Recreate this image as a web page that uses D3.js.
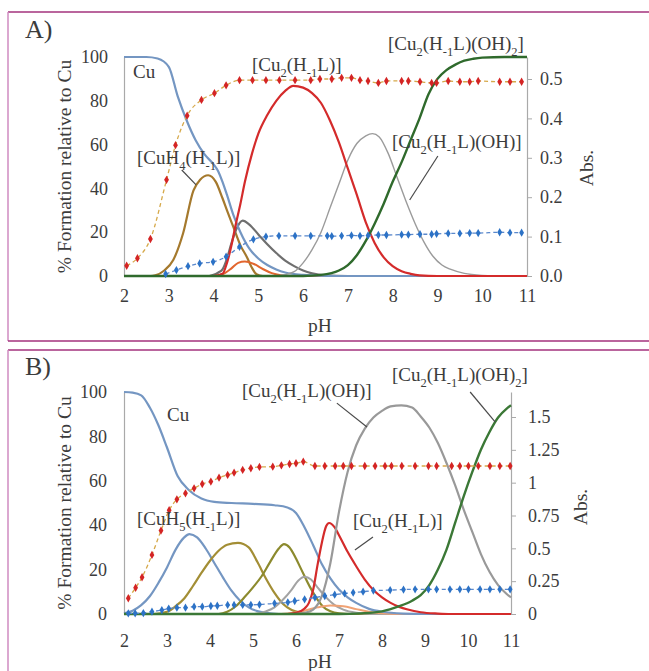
<!DOCTYPE html>
<html>
<head>
<meta charset="utf-8">
<script src="https://cdnjs.cloudflare.com/ajax/libs/d3/7.8.5/d3.min.js"></script>
<style>
  body { margin: 0; background: #fff; }
  svg text, svg tspan { font-family: "Liberation Serif", "DejaVu Serif", serif; fill: #3c3c3c; }
</style>
</head>
<body>
<div id="chart"></div>
<script>
// Shared ticks
var ph_ticks = [2, 3, 4, 5, 6, 7, 8, 9, 10, 11];
var pct_ticks = [0, 20, 40, 60, 80, 100];
var abs_ticks_a = [0, 0.1, 0.2, 0.3, 0.4, 0.5];
var abs_ticks_b = [0, 0.25, 0.5, 0.75, 1, 1.25, 1.5];

var SERIF = '"Liberation Serif", "DejaVu Serif", serif';

// Panel A: species distribution, [pH, % formation]
var a_cu = [[2,100],[2.5,100],[2.75,99.3],[3.0,95.5],[3.2,82],[3.4,71],[3.6,62],[3.8,55.5],[4.0,51],[4.1,48],[4.2,43],[4.3,37],[4.44,28],[4.6,20],[4.8,12.5],[5.0,8],[5.2,5],[5.4,3],[5.6,1.6],[6.0,0.5],[6.5,0.1],[7,0],[11,0]];
var a_cuh4 = [[2,0],[2.6,0],[2.7,0.3],[2.9,2.5],[3.1,7.3],[3.32,19.5],[3.55,39],[3.7,44],[3.88,46],[4.05,43],[4.2,35.5],[4.3,30],[4.44,22.5],[4.6,14],[4.74,8.8],[4.85,4],[4.96,0.8],[5.1,0],[11,0]];
var a_mid = [[2,0],[3.9,0],[4.0,0.5],[4.1,1.5],[4.2,3],[4.3,8],[4.4,15],[4.5,21],[4.65,25.3],[4.8,23.5],[5.0,19],[5.2,14.5],[5.4,10.5],[5.6,7],[5.8,4.5],[6.0,2.5],[6.2,1.2],[6.5,0.3],[7,0],[11,0]];
var a_minor = [[2,0],[4.0,0],[4.2,0.8],[4.4,3.5],[4.55,6],[4.7,6.6],[4.9,5.5],[5.1,3.2],[5.3,1.3],[5.5,0.4],[5.8,0],[11,0]];
var a_cu2 = [[2,0],[4.0,0],[4.2,1],[4.3,6],[4.4,14],[4.48,22],[4.6,33],[4.7,43],[4.86,56],[5.0,65],[5.2,73.5],[5.4,80],[5.6,84.5],[5.78,86.8],[6.0,86],[6.2,83.5],[6.4,79],[6.6,71],[6.8,61],[7.0,49],[7.2,37],[7.4,24.5],[7.6,15],[7.8,8.5],[8.0,4.5],[8.2,2.2],[8.4,1],[8.6,0.3],[9,0],[11,0]];
var a_cu2oh = [[2,0],[5.3,0],[5.5,0.3],[5.8,2],[6.0,6],[6.2,12],[6.4,20],[6.6,31],[6.8,42],[7.0,53],[7.2,60.5],[7.4,64],[7.55,65],[7.7,63.5],[7.9,56],[8.1,45],[8.3,34],[8.5,24],[8.7,15.5],[8.9,9],[9.1,5],[9.3,3],[9.6,1.2],[10,0.3],[10.5,0],[11,0]];
var a_cu2oh2 = [[2,0],[6.0,0],[6.4,0.5],[6.8,2.5],[7.0,5],[7.2,9.5],[7.4,16],[7.6,24],[7.8,33],[8.0,43],[8.2,52],[8.4,62],[8.6,72],[8.8,83],[9.0,90],[9.2,94],[9.4,96.5],[9.6,98.3],[9.8,99.2],[10,99.7],[10.5,100],[11,100]];

// Panel A: absorbance readings, [pH, Abs]
var a_abs_red = [[2.06,0.026],[2.3,0.045],[2.59,0.094],[2.95,0.244],[3.15,0.332],[3.41,0.407],[3.73,0.447],[4.02,0.464],[4.28,0.484],[4.58,0.497],[4.87,0.497],[5.17,0.497],[5.47,0.497],[5.82,0.497],[6.17,0.497],[6.375,0.5],[6.64,0.5],[6.86,0.503],[7.08,0.503],[7.27,0.497],[7.45,0.495],[7.68,0.49],[7.86,0.495],[8.2,0.495],[8.35,0.495],[8.61,0.493],[8.87,0.49],[8.98,0.49],[9.24,0.495],[9.5,0.493],[9.72,0.493],[9.91,0.495],[10.39,0.493],[10.62,0.493],[10.88,0.493]];
var a_abs_blue = [[2.93,0.005],[3.17,0.015],[3.43,0.025],[3.69,0.032],[3.99,0.036],[4.28,0.049],[4.58,0.074],[4.89,0.093],[5.17,0.1],[5.46,0.102],[5.82,0.102],[6.17,0.102],[6.54,0.102],[6.64,0.101],[6.86,0.102],[7.08,0.103],[7.27,0.102],[7.45,0.103],[7.68,0.104],[7.86,0.104],[8.2,0.105],[8.35,0.105],[8.61,0.106],[8.87,0.106],[8.98,0.107],[9.24,0.108],[9.5,0.108],[9.72,0.109],[9.91,0.109],[10.39,0.111],[10.62,0.11],[10.88,0.11]];

// Panel B: species distribution, [pH, % formation]
var b_cu = [[2,100],[2.2,99.7],[2.4,98.5],[2.6,93],[2.8,85],[3.0,75],[3.25,62],[3.5,56],[3.8,52],[4.1,50.5],[4.5,50],[5.0,49.6],[5.5,49],[5.8,48],[6.0,45.5],[6.2,39],[6.4,31],[6.6,22.5],[6.8,16],[7.0,11],[7.2,7.5],[7.4,5],[7.7,2.3],[8.0,1],[8.5,0.2],[9,0],[11,0]];
var b_cuh5 = [[2,0.3],[2.2,1.5],[2.4,4],[2.6,8],[2.8,14],[3.0,21],[3.2,29],[3.4,34.5],[3.52,36],[3.7,34.5],[3.9,29.5],[4.1,23],[4.3,16.5],[4.5,10.5],[4.7,6],[4.9,3],[5.1,1.3],[5.3,0.5],[5.6,0],[11,0]];
var b_sp3 = [[2,0],[2.7,0],[3.0,1],[3.2,3.5],[3.4,7],[3.6,12.5],[3.8,18.5],[4.0,24],[4.2,28.5],[4.4,31.2],[4.65,32],[4.9,30],[5.1,23.5],[5.3,16],[5.5,9.5],[5.7,4.5],[5.9,1.8],[6.1,0.6],[6.4,0],[11,0]];
var b_sp4 = [[2,0],[4.2,0],[4.4,1],[4.6,3.5],[4.8,7.5],[5.0,12],[5.2,17],[5.4,23.5],[5.6,29.5],[5.72,31.5],[5.85,30],[6.0,25],[6.1,21],[6.2,17],[6.33,12],[6.5,6.5],[6.63,3.3],[6.8,1.2],[7.0,0.3],[7.3,0],[11,0]];
var b_sp5 = [[2,0],[5.0,0],[5.3,1.2],[5.5,3],[5.7,6.5],[5.9,11],[6.05,15],[6.2,16.8],[6.35,15.5],[6.5,12],[6.7,7.5],[6.9,4],[7.1,2],[7.4,0.6],[7.8,0],[11,0]];
var b_minor = [[2,0],[5.6,0],[5.9,0.5],[6.2,1.5],[6.5,3],[6.8,3.8],[7.1,3.5],[7.4,2.2],[7.7,1],[8.0,0.3],[8.4,0],[11,0]];
var b_cu2 = [[2,0],[5.8,0],[6.0,0.5],[6.2,2.5],[6.3,5],[6.4,11],[6.5,22],[6.6,32],[6.7,39.5],[6.77,41],[6.9,39],[7.0,35.5],[7.2,28],[7.4,21.5],[7.6,15.5],[7.8,10.8],[8.0,7.5],[8.2,5],[8.4,3.2],[8.6,2],[8.9,0.8],[9.3,0.2],[9.6,0],[11,0]];
var b_cu2oh = [[2,0],[6.0,0],[6.2,0.5],[6.4,2],[6.6,8],[6.8,23],[7.0,46],[7.2,64],[7.4,76],[7.6,83.5],[7.8,88.5],[8.0,91.5],[8.2,93.5],[8.45,94],[8.7,93],[8.9,89],[9.1,84],[9.3,77],[9.5,68],[9.7,58],[9.9,47],[10.1,37],[10.3,27],[10.5,19],[10.7,13],[10.9,9],[11,7.5]];
var b_cu2oh2 = [[2,0],[7.0,0],[7.5,0.3],[8.0,1.2],[8.4,3.5],[8.7,6],[8.9,8.5],[9.1,13],[9.3,20],[9.5,29],[9.7,41],[9.9,53],[10.1,64],[10.3,74],[10.5,82],[10.7,88.5],[10.9,92.5],[11,94]];

// Panel B: absorbance readings, [pH, Abs]
var b_abs_red = [[2.1,0.12],[2.27,0.2],[2.42,0.28],[2.65,0.45],[2.86,0.635],[3.05,0.79],[3.23,0.873],[3.43,0.919],[3.63,0.957],[3.82,0.99],[4.02,1.008],[4.21,1.038],[4.41,1.059],[4.56,1.076],[4.76,1.097],[4.95,1.11],[5.15,1.12],[5.46,1.122],[5.66,1.132],[5.85,1.142],[6.0,1.148],[6.17,1.16],[6.44,1.127],[6.67,1.127],[6.91,1.127],[7.1,1.127],[7.29,1.127],[7.6,1.127],[7.84,1.127],[8.07,1.127],[8.22,1.127],[8.46,1.127],[8.77,1.127],[9.08,1.127],[9.27,1.127],[9.62,1.127],[9.81,1.127],[10.01,1.127],[10.24,1.127],[10.51,1.127],[10.74,1.127],[10.98,1.127]];
var b_abs_blue = [[2.1,0.005],[2.26,0.005],[2.45,0.007],[2.65,0.018],[2.88,0.03],[3.04,0.041],[3.23,0.048],[3.43,0.048],[3.63,0.056],[3.82,0.056],[4.02,0.061],[4.17,0.063],[4.41,0.069],[4.56,0.069],[4.76,0.069],[4.95,0.07],[5.15,0.072],[5.5,0.081],[5.81,0.089],[5.97,0.099],[6.2,0.112],[6.44,0.125],[6.67,0.137],[6.9,0.147],[7.13,0.157],[7.33,0.163],[7.56,0.17],[7.8,0.178],[8.19,0.182],[8.5,0.186],[8.77,0.188],[9.08,0.188],[9.27,0.188],[9.58,0.188],[9.81,0.188],[10.01,0.188],[10.28,0.188],[10.51,0.188],[10.74,0.188],[10.98,0.188]];

var svg = d3.select('#chart')
    .append('svg')
    .attr('width', 649)
    .attr('height', 671);

// Panel frames
function draw_frame(top, bottom) {
    svg.append('line').attr('x1', 8).attr('x2', 700).attr('y1', top).attr('y2', top)
        .attr('stroke', '#a3327c').attr('stroke-width', 1.5);
    svg.append('line').attr('x1', 8).attr('x2', 8).attr('y1', top).attr('y2', bottom)
        .attr('stroke', '#cf8bc0').attr('stroke-width', 1.5);
    if (bottom < 671) {
        svg.append('line').attr('x1', 8).attr('x2', 700).attr('y1', bottom).attr('y2', bottom)
            .attr('stroke', '#a3327c').attr('stroke-width', 1.5);
    }
}
draw_frame(12, 341);
draw_frame(350, 700);

// Text with subscripts: parts = [[text, isSub], ...]
function add_label(g, x, y, parts, size) {
    var t = g.append('text').attr('x', x).attr('y', y)
        .style('font-family', SERIF).style('font-size', size + 'px');
    var shift = 0;
    parts.forEach(function(p) {
        var target = p[1] ? size * 0.3 : 0;
        t.append('tspan')
            .attr('dy', target - shift)
            .style('font-size', p[1] ? (size * 0.66) + 'px' : size + 'px')
            .text(p[0]);
        shift = target;
    });
}

function style_axis(axis_g) {
    axis_g.attr('font-family', null).attr('font-size', null);
    axis_g.selectAll('.domain').attr('stroke', '#a9a9a9').attr('stroke-width', 1.2);
    axis_g.selectAll('.tick line').attr('stroke', '#a9a9a9');
    axis_g.selectAll('text').style('font-family', SERIF).style('font-size', '18px').style('fill', '#3c3c3c');
}

function render_panel(cfg) {
    var g = svg.append('g');

    var x = d3.scaleLinear().domain([2, 11]).range([cfg.left, cfg.right]);
    var y = d3.scaleLinear().domain([0, 100]).range([cfg.bottom, cfg.top]);
    var yAbs = d3.scaleLinear().domain([0, cfg.absMax]).range([cfg.bottom, cfg.top]);

    // Axes
    style_axis(g.append('g').attr('transform', 'translate(' + cfg.left + ',0)')
        .call(d3.axisLeft(y).tickValues(pct_ticks).tickSize(0).tickPadding(cfg.padL)));
    style_axis(g.append('g').attr('transform', 'translate(' + cfg.right + ',0)')
        .call(d3.axisRight(yAbs).tickValues(cfg.absTicks).tickSize(5).tickSizeOuter(0)
            .tickPadding(cfg.padR).tickFormat(cfg.absFmt)));
    style_axis(g.append('g').attr('transform', 'translate(0,' + cfg.bottom + ')')
        .call(d3.axisBottom(x).tickValues(ph_ticks).tickSize(0).tickPadding(cfg.padB)));

    // Species curves
    var line = d3.line()
        .x(function(d) { return x(d[0]); })
        .y(function(d) { return y(d[1]); })
        .curve(d3.curveMonotoneX);

    cfg.species.forEach(function(s) {
        g.append('path')
            .datum(s.data)
            .attr('d', line)
            .attr('fill', 'none')
            .attr('stroke', s.color)
            .attr('stroke-width', s.width);
    });

    // Absorbance series
    var absLine = d3.line()
        .x(function(d) { return x(d[0]); })
        .y(function(d) { return yAbs(d[1]); })
        .curve(d3.curveMonotoneX);
    var marker = d3.symbol().type(d3.symbolDiamond).size(20);

    cfg.abs.forEach(function(s) {
        g.append('path')
            .datum(s.data)
            .attr('d', absLine)
            .attr('fill', 'none')
            .attr('stroke', s.line)
            .attr('stroke-width', 1.3)
            .attr('stroke-dasharray', '4,3');
        g.selectAll(null)
            .data(s.data)
            .enter()
            .append('path')
            .attr('d', marker)
            .attr('transform', function(d) { return 'translate(' + x(d[0]) + ',' + yAbs(d[1]) + ')'; })
            .attr('fill', s.marker);
    });

    // Leader lines
    cfg.pointers.forEach(function(p) {
        g.append('line')
            .attr('x1', x(p[0])).attr('y1', y(p[1]))
            .attr('x2', x(p[2])).attr('y2', y(p[3]))
            .attr('stroke', '#4a4a4a').attr('stroke-width', 1.2);
    });

    // Species labels
    cfg.labels.forEach(function(l) {
        add_label(g, l.x, l.y, l.parts, 19);
    });

    // Titles
    g.append('text').attr('x', 25).attr('y', cfg.letterY)
        .style('font-family', SERIF).style('font-size', '26px').text(cfg.letter);
    g.append('text')
        .attr('transform', 'translate(' + cfg.titleX + ',' + ((cfg.top + cfg.bottom) / 2) + ') rotate(-90)')
        .attr('text-anchor', 'middle').style('font-family', SERIF).style('font-size', '19.5px')
        .text('% Formation relative to Cu');
    g.append('text')
        .attr('transform', 'translate(' + cfg.absX + ',' + cfg.absY + ') rotate(-90)')
        .attr('text-anchor', 'middle').style('font-family', SERIF).style('font-size', '19.5px')
        .text('Abs.');
    g.append('text')
        .attr('x', 320).attr('y', cfg.phY)
        .attr('text-anchor', 'middle').style('font-family', SERIF).style('font-size', '19.5px')
        .text('pH');
}

var cu2 = [['[Cu'], ['2', 1], ['(H'], ['-1', 1], ['L)]']];
var cu2oh = [['[Cu'], ['2', 1], ['(H'], ['-1', 1], ['L)(OH)]']];
var cu2oh2 = [['[Cu'], ['2', 1], ['(H'], ['-1', 1], ['L)(OH)'], ['2', 1], [']']];

render_panel({
    letter: 'A)', letterY: 38,
    left: 124, right: 527, top: 57, bottom: 276,
    absMax: 0.5 * 219 / 197, absTicks: abs_ticks_a, absFmt: d3.format('.1f'),
    padL: 16, padR: 8, padB: 13,
    titleX: 71, absX: 593, absY: 168, phY: 332,
    species: [
        {data: a_cuh4, color: '#a5792d', width: 2.2},
        {data: a_mid, color: '#6f6f6f', width: 2.2},
        {data: a_minor, color: '#e2662e', width: 2},
        {data: a_cu, color: '#7496c2', width: 2.2},
        {data: a_cu2oh, color: '#9b9b9b', width: 1.4},
        {data: a_cu2, color: '#d42b2b', width: 2.2},
        {data: a_cu2oh2, color: '#2f6a2c', width: 2.4}
    ],
    abs: [
        {data: a_abs_red, line: '#d6a94a', marker: '#d42424'},
        {data: a_abs_blue, line: '#5a88cc', marker: '#2c72c6'}
    ],
    pointers: [[3.29, 48.4, 3.61, 41.6], [9.01, 54.8, 8.38, 34.7]],
    labels: [
        {x: 133, y: 78, parts: [['Cu']]},
        {x: 252, y: 71, parts: cu2},
        {x: 388, y: 50, parts: cu2oh2},
        {x: 137, y: 164, parts: [['[CuH'], ['4', 1], ['(H'], ['-1', 1], ['L)]']]},
        {x: 392, y: 148, parts: cu2oh}
    ]
});

render_panel({
    letter: 'B)', letterY: 375,
    left: 124, right: 511, top: 392, bottom: 614,
    absMax: 1.5 * 222 / 197, absTicks: abs_ticks_b, absFmt: function(d) { return String(d); },
    padL: 17, padR: 12, padB: 20,
    titleX: 71, absX: 587, absY: 507, phY: 668,
    species: [
        {data: b_cuh5, color: '#7496c2', width: 2.2},
        {data: b_sp3, color: '#a38e35', width: 2.2},
        {data: b_sp4, color: '#8c8a2e', width: 2.2},
        {data: b_sp5, color: '#a3a3a3', width: 2},
        {data: b_minor, color: '#f0a274', width: 2},
        {data: b_cu, color: '#7496c2', width: 2.2},
        {data: b_cu2, color: '#d42b2b', width: 2.2},
        {data: b_cu2oh, color: '#999999', width: 2.2},
        {data: b_cu2oh2, color: '#3b7836', width: 2.4}
    ],
    abs: [
        {data: b_abs_red, line: '#d6a94a', marker: '#d42424'},
        {data: b_abs_blue, line: '#5a88cc', marker: '#2c72c6'}
    ],
    pointers: [[6.95, 95, 7.65, 84.2], [10.05, 100, 10.63, 86.5], [7.79, 34.7, 7.37, 28.8]],
    labels: [
        {x: 167, y: 421, parts: [['Cu']]},
        {x: 137, y: 525, parts: [['[CuH'], ['5', 1], ['(H'], ['-1', 1], ['L)]']]},
        {x: 242, y: 397, parts: cu2oh},
        {x: 392, y: 381, parts: cu2oh2},
        {x: 353, y: 527, parts: cu2}
    ]
});
</script>
</body>
</html>
